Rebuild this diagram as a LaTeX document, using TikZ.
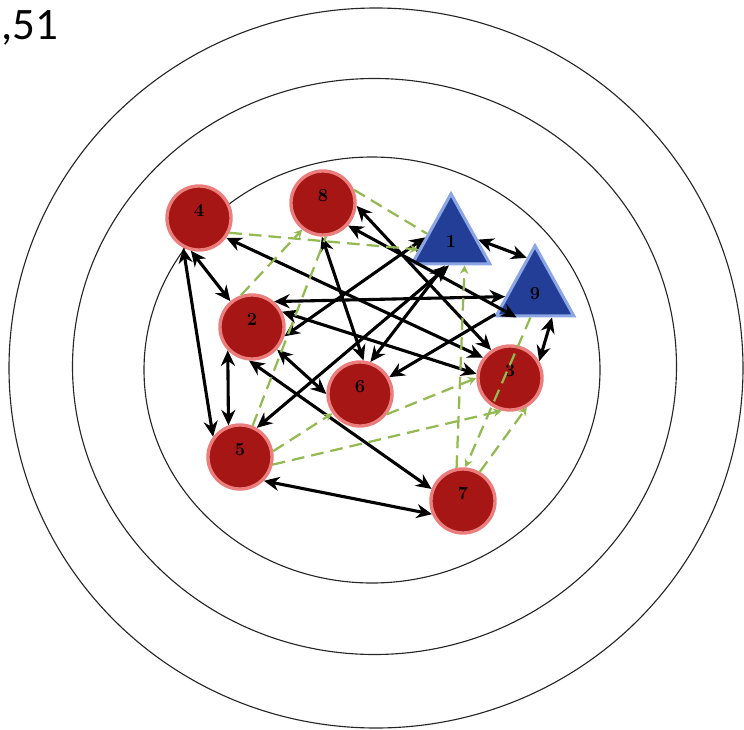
\documentclass[tikz,border=0pt]{standalone}
\usepackage{fontspec}
\usepackage{xcolor}
\usepackage{tikz}
\usetikzlibrary{arrows.meta,shapes.geometric}

\newfontfamily\tagfont{Carlito}
\definecolor{nodered}{RGB}{165,22,20}
\definecolor{noderim}{RGB}{236,125,125}
\definecolor{triblue}{RGB}{34,62,150}
\definecolor{tririm}{RGB}{140,165,228}
\definecolor{linkgreen}{RGB}{146,186,80}

\begin{document}
\begin{tikzpicture}[x=0.025cm, y=-0.025cm,
  ring/.style ={draw=black!85, line width=0.8pt},
  cnode/.style={circle, fill=nodered, draw=noderim, line width=2.4pt,
                minimum size=1.6cm, inner sep=0pt,
                font=\fontsize{13}{15}\selectfont\bfseries,
                text height=1.6ex, text depth=2.2ex},
  tnode/.style={isosceles triangle, shape border rotate=90,
                isosceles triangle apex angle=58,
                fill=triblue, draw=tririm, line width=2.2pt,
                minimum height=1.75cm, minimum width=1.75cm, inner sep=0pt,
                font=\fontsize{13}{15}\selectfont\bfseries},
  arr/.style ={{Stealth[length=11pt,width=10pt]}-{Stealth[length=11pt,width=10pt]},
               line width=2.2pt},
  sarr/.style={-{Stealth[length=11pt,width=10pt]}, line width=2.2pt},
  dline/.style={linkgreen, line width=1.6pt, dash pattern=on 9pt off 5pt},
  darr/.style={dline, -{Stealth[length=6pt,width=6pt]}}
]
\useasboundingbox (0,0) rectangle (744,730);

%% ── rings ────────────────────────────────────────────────────────────
\draw[ring] (376,368)   ellipse [x radius=367, y radius=360];
\draw[ring] (374.5,366.5) ellipse [x radius=302, y radius=288];
\draw[ring] (372,370)   ellipse [x radius=228, y radius=213];

\node[anchor=base west, inner sep=0pt, font=\tagfont\fontsize{32}{36}\selectfont]
    (tag) at (1,39) {,51};

%% ── actors ───────────────────────────────────────────────────────────
\node[cnode] (n4) at (199,218) {4};
\node[cnode] (n8) at (323,203) {8};
\node[cnode] (n2) at (252,327) {2};
\node[cnode] (n6) at (360,394) {6};
\node[cnode] (n5) at (240,457) {5};
\node[cnode] (n7) at (463,501) {7};
\node[cnode] (n3) at (510,378) {3};
\node[tnode] (n1) at (451,242) {1};
\node[tnode] (n9) at (535,294) {9};

%% ── ties ─────────────────────────────────────────────────────────────
\draw[arr] (n4.256) -- (n2.130);
\draw[arr] (n4.242) -- (n5.143);
\draw[arr] (n2.224) -- (n5.110);
\draw[arr] (n5.315) -- (n7.203);
\draw[arr] (n2.265) -- (n7.159);
\draw[arr] (n2.318) -- (n6.180);
\draw[arr] (n8.268) -- (n6.84);
\draw[arr] (n8.355) -- (n3.124);
\draw[arr] (n8.318) -- (n9.232);
\draw[arr] (n4.324) -- (n3.143);
\draw[arr] (n2.49)  -- (n9.185);
\draw[arr] (n2.27)  -- (n3.173);
\draw[arr] (n1.170) -- (n2.344);
\draw[arr] (n1.265) -- (n5.60);
\draw[arr] (n1.255) -- (n6.72);
\draw[sarr] (n9.207) -- (n6.30);
\draw[arr] (n1.5)   -- (n9.103);
\draw[arr] (n9.306) -- (n3.30);

%% ── weak ties ────────────────────────────────────────────────────────
\draw[darr]  (n4.334) -- (n1.193);
\draw[dline] (n8.23)  -- (n1.161);
\draw[darr]  (n2.109) -- (n8.232);
\draw[dline] (n5.68)  -- (n8.275);
\draw[darr]  (n5.10)  -- (n6.215);
\draw[darr]  (n5.347) -- (n3.256);
\draw[darr]  (n6.323) -- (n3.180);
\draw[darr]  (n7.101) -- (n1.300);
\draw[darr]  (n9.259) -- (n7.86);
\draw[darr]  (n7.60)  -- (n3.300);

\end{tikzpicture}
\end{document}
